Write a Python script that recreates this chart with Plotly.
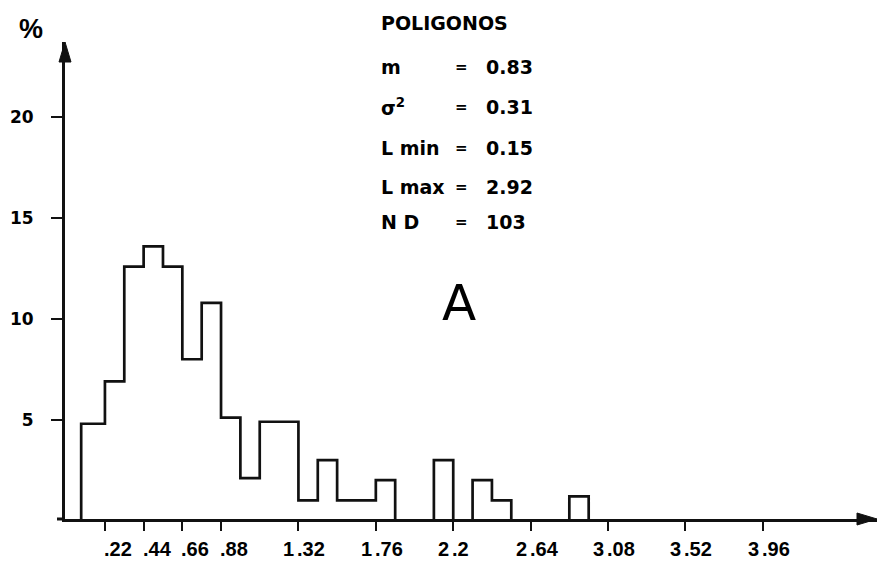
import plotly.graph_objects as go

# ---- data ----
bin_edges = [0.085, 0.22, 0.33, 0.44, 0.55, 0.66, 0.77, 0.88, 0.99, 1.10, 1.21,
             1.32, 1.43, 1.54, 1.65, 1.76, 1.87, 1.98, 2.09, 2.20, 2.31, 2.42,
             2.53, 2.64, 2.75, 2.86, 2.97]
percent = [4.8, 6.9, 12.6, 13.6, 12.6, 8.0, 10.8, 5.1, 2.1, 4.9, 4.9, 1.0, 3.0,
           1.0, 1.0, 2.0, 0.0, 0.0, 3.0, 0.0, 2.0, 1.0, 0.0, 0.0, 0.0, 1.2]
x_tick_vals = [0.22, 0.44, 0.66, 0.88, 1.32, 1.76, 2.2, 2.64, 3.08, 3.52, 3.96]
x_tick_text = [".22", ".44", ".66", ".88", "1.32", "1.76", "2.2", "2.64", "3.08", "3.52", "3.96"]
y_tick_vals = [5, 10, 15, 20]
y_tick_text = ["5", "10", "15", "20"]
title_text = "POLIGONOS"
stats_labels = ["m", "σ<sup>2</sup>", "L min", "L max", "N D"]
stats_values = ["0.83", "0.31", "0.15", "2.92", "103"]
panel_letter = "A"
y_unit = "%"

# ---- layout geometry (pixels) ----
W, H = 878, 561
L, R, T, B = 65, 1, 42, 42
PW, PH = W - L - R, H - T - B
X_RANGE = [-0.007, 4.609]
Y_RANGE = [0.075, 23.74]


def px(xp):
    return (xp - L) / PW


def py(yp):
    return (H - B - yp) / PH


BOLD = dict(family="DejaVu Sans", size=19, color="black", weight="bold")
INK = "#111111"

fig = go.Figure()

# histogram outline as a step line
step_x = [bin_edges[0]] + bin_edges
step_y = [0] + percent + [0]
fig.add_trace(go.Scatter(x=step_x, y=step_y, mode="lines",
                         line=dict(shape="hv", color=INK, width=2.7),
                         cliponaxis=False, hoverinfo="skip", showlegend=False))

annotations = []
# x tick labels: decimal point sits on the tick
XFONT = dict(family="Liberation Sans", size=20, color="black", weight="bold")
for v, t in zip(x_tick_vals, x_tick_text):
    ip, fp = t.split(".")
    if ip:
        annotations.append(dict(x=v, y=0, xref="x", yref="paper", text=ip, showarrow=False,
                                xanchor="right", yanchor="middle", xshift=-2, yshift=-30,
                                font=XFONT))
    annotations.append(dict(x=v, y=0, xref="x", yref="paper", text="." + fp, showarrow=False,
                            xanchor="left", yanchor="middle", xshift=-3, yshift=-30,
                            font=XFONT))

# title block
annotations.append(dict(x=px(379), y=py(23), xref="paper", yref="paper", text=title_text,
                        showarrow=False, xanchor="left", yanchor="middle", font=BOLD))
row_y = [67, 107, 148, 187, 222]
for lab, val, yy in zip(stats_labels, stats_values, row_y):
    annotations.append(dict(x=px(379), y=py(yy), xref="paper", yref="paper", text=lab,
                            showarrow=False, xanchor="left", yanchor="middle", font=BOLD))
    annotations.append(dict(x=px(461), y=py(yy), xref="paper", yref="paper", text="=",
                            showarrow=False, xanchor="center", yanchor="middle",
                            font=dict(family="DejaVu Sans", size=15, color="black", weight="bold")))
    annotations.append(dict(x=px(484), y=py(yy), xref="paper", yref="paper", text=val,
                            showarrow=False, xanchor="left", yanchor="middle", font=BOLD))

annotations.append(dict(x=px(459), y=py(303), xref="paper", yref="paper", text=panel_letter,
                        showarrow=False, xanchor="center", yanchor="middle",
                        font=dict(family="DejaVu Sans", size=50, color="black")))
annotations.append(dict(x=px(31), y=py(29), xref="paper", yref="paper", text=y_unit,
                        showarrow=False, xanchor="center", yanchor="middle",
                        font=dict(family="Liberation Sans", size=27, color="black", weight="bold")))

shapes = [
    # arrowhead on y axis
    dict(type="path", xref="paper", yref="paper", xsizemode="pixel", ysizemode="pixel",
         xanchor=0, yanchor=1, path="M0,0 L-6,-20 L6,-20 Z",
         fillcolor=INK, line=dict(color=INK, width=1)),
    # arrowhead on x axis
    dict(type="path", xref="paper", yref="paper", xsizemode="pixel", ysizemode="pixel",
         xanchor=1, yanchor=0, path="M0,0 L-20,6 L-20,-6 Z",
         fillcolor=INK, line=dict(color=INK, width=1)),
    # small extension of x axis left of the y axis
    dict(type="line", xref="paper", yref="paper", x0=px(57), x1=0, y0=0, y1=0,
         line=dict(color=INK, width=3)),
]

fig.update_layout(
    width=W, height=H, margin=dict(l=L, r=R, t=T, b=B),
    paper_bgcolor="white", plot_bgcolor="white",
    annotations=annotations, shapes=shapes, showlegend=False,
    xaxis=dict(range=X_RANGE, showgrid=False, zeroline=False, showline=True,
               linecolor=INK, linewidth=3, ticks="outside", ticklen=9, tickwidth=2,
               tickcolor=INK, tickvals=x_tick_vals, showticklabels=False, fixedrange=True),
    yaxis=dict(range=Y_RANGE, showgrid=False, zeroline=False, showline=True,
               linecolor=INK, linewidth=3, ticks="outside", ticklen=11, tickwidth=2,
               tickcolor=INK, tickvals=y_tick_vals, ticktext=y_tick_text,
               tickfont=dict(family="DejaVu Sans", size=17, color="black", weight="bold"),
               ticklabelstandoff=14, fixedrange=True),
)

fig.write_html("out.html", config={"displayModeBar": False},
               post_script="document.body.style.margin='0';")
